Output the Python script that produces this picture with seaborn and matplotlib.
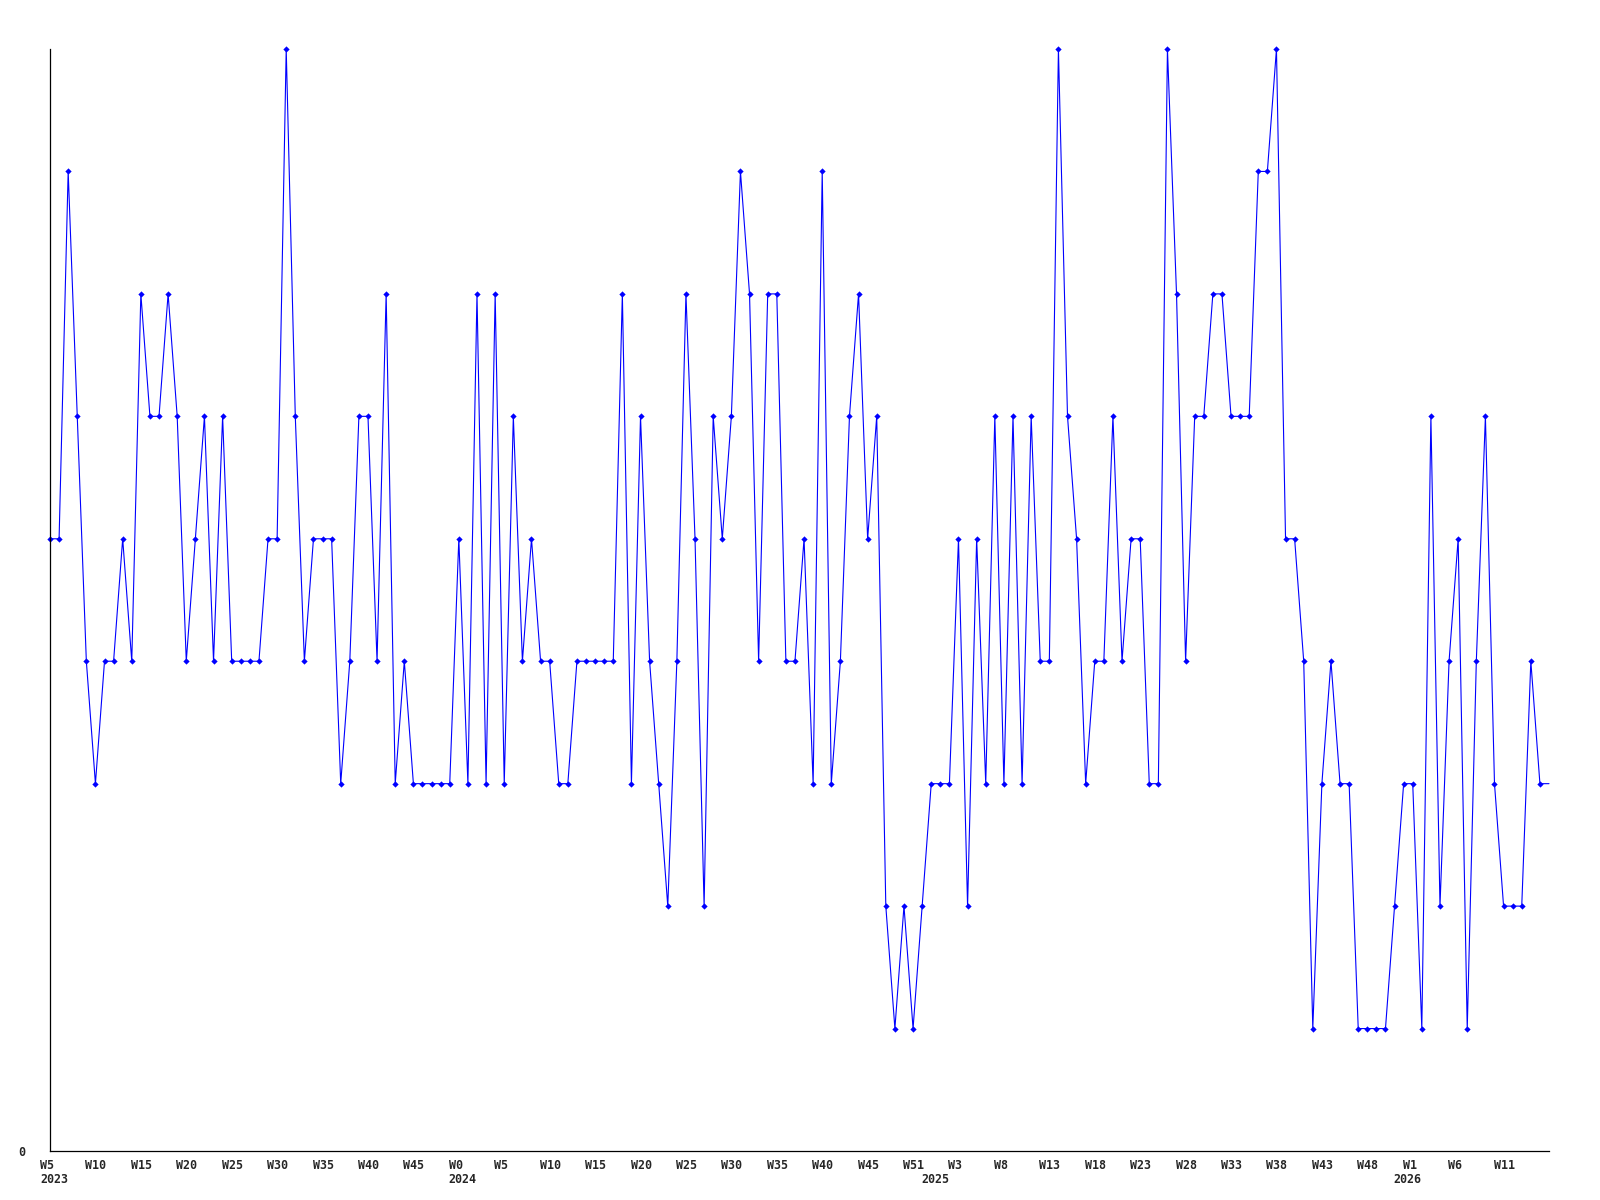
import matplotlib
matplotlib.use("Agg")
import matplotlib.pyplot as plt
from matplotlib.transforms import offset_copy
import seaborn as sns
import numpy as np

# weekly counts, one value per week starting 2023 W5
counts = [5, 5, 8, 6, 4, 3, 4, 4, 5, 4,
          7, 6, 6, 7, 6, 4, 5, 6, 4, 6,
          4, 4, 4, 4, 5, 5, 9, 6, 4, 5,
          5, 5, 3, 4, 6, 6, 4, 7, 3, 4,
          3, 3, 3, 3, 3,
          5, 3, 7, 3, 7, 3, 6, 4, 5, 4,
          4, 3, 3, 4, 4, 4, 4, 4, 7, 3,
          6, 4, 3, 2, 4, 7, 5, 2, 6, 5,
          6, 8, 7, 4, 7, 7, 4, 4, 5, 3,
          8, 3, 4, 6, 7, 5, 6, 2, 1, 2,
          1, 2, 3, 3, 3, 5, 2, 5, 3, 6,
          3, 6, 3, 6, 4, 4, 9, 6, 5, 3,
          4, 4, 6, 4, 5, 5, 3, 3, 9, 7,
          4, 6, 6, 7, 7, 6, 6, 6, 8, 8,
          9, 5, 5, 4, 1, 3, 4, 3, 3, 1,
          1, 1, 1, 2, 3, 3, 1, 6, 2, 4,
          5, 1, 4, 6, 3, 2, 2, 2, 4, 3, 3]

# a label every 5th week
week_labels = ["W5", "W10", "W15", "W20", "W25", "W30", "W35", "W40", "W45",
               "W0", "W5", "W10", "W15", "W20", "W25", "W30", "W35", "W40", "W45",
               "W51", "W3", "W8", "W13", "W18", "W23", "W28", "W33", "W38", "W43",
               "W48", "W1", "W6", "W11"]
years = ["2023", "2024", "2025", "2026"]
year_start = [0, 45, 97, 149]  # index of first week of each year

sns.set_style("white")
plt.rcParams["font.family"] = ["DejaVu Sans Mono", "DejaVu Sans"]

fig = plt.figure(figsize=(16, 12), dpi=100)
ax = fig.add_axes([50 / 1600, 49 / 1200, 1499 / 1600, 1102 / 1200])

x = np.arange(len(counts))
sns.lineplot(x=x, y=counts, ax=ax, color="#0000ff", linewidth=0.8,
             marker="D", markersize=3.2, markeredgewidth=0,
             markevery=list(range(len(counts) - 1)), clip_on=False)

ax.set_xlim(0, len(counts) - 1)
ax.set_ylim(0, 9)
for side in ["top", "right"]:
    ax.spines[side].set_visible(False)
for side in ["left", "bottom"]:
    ax.spines[side].set_color("black")
    ax.spines[side].set_linewidth(0.9)

ax.set_xticks([])
ax.set_yticks([0], ["0"])
ax.tick_params(axis="y", length=0, pad=18, labelsize=8.4)
for lab in ax.get_yticklabels():
    lab.set_fontweight("bold")

tick_pos = x[::5]
row1 = offset_copy(ax.get_xaxis_transform(), fig=fig, x=-10, y=-8, units="dots")
row2 = offset_copy(ax.get_xaxis_transform(), fig=fig, x=-10, y=-22, units="dots")
for pos, lab in zip(tick_pos, week_labels):
    ax.text(pos, 0, lab, transform=row1, ha="left", va="top",
            fontsize=8.4, fontweight="bold")
for pos, yr in zip(year_start, years):
    ax.text(pos, 0, yr, transform=row2, ha="left", va="top",
            fontsize=8.4, fontweight="bold")

fig.savefig("out.png", dpi=100, facecolor="white")
